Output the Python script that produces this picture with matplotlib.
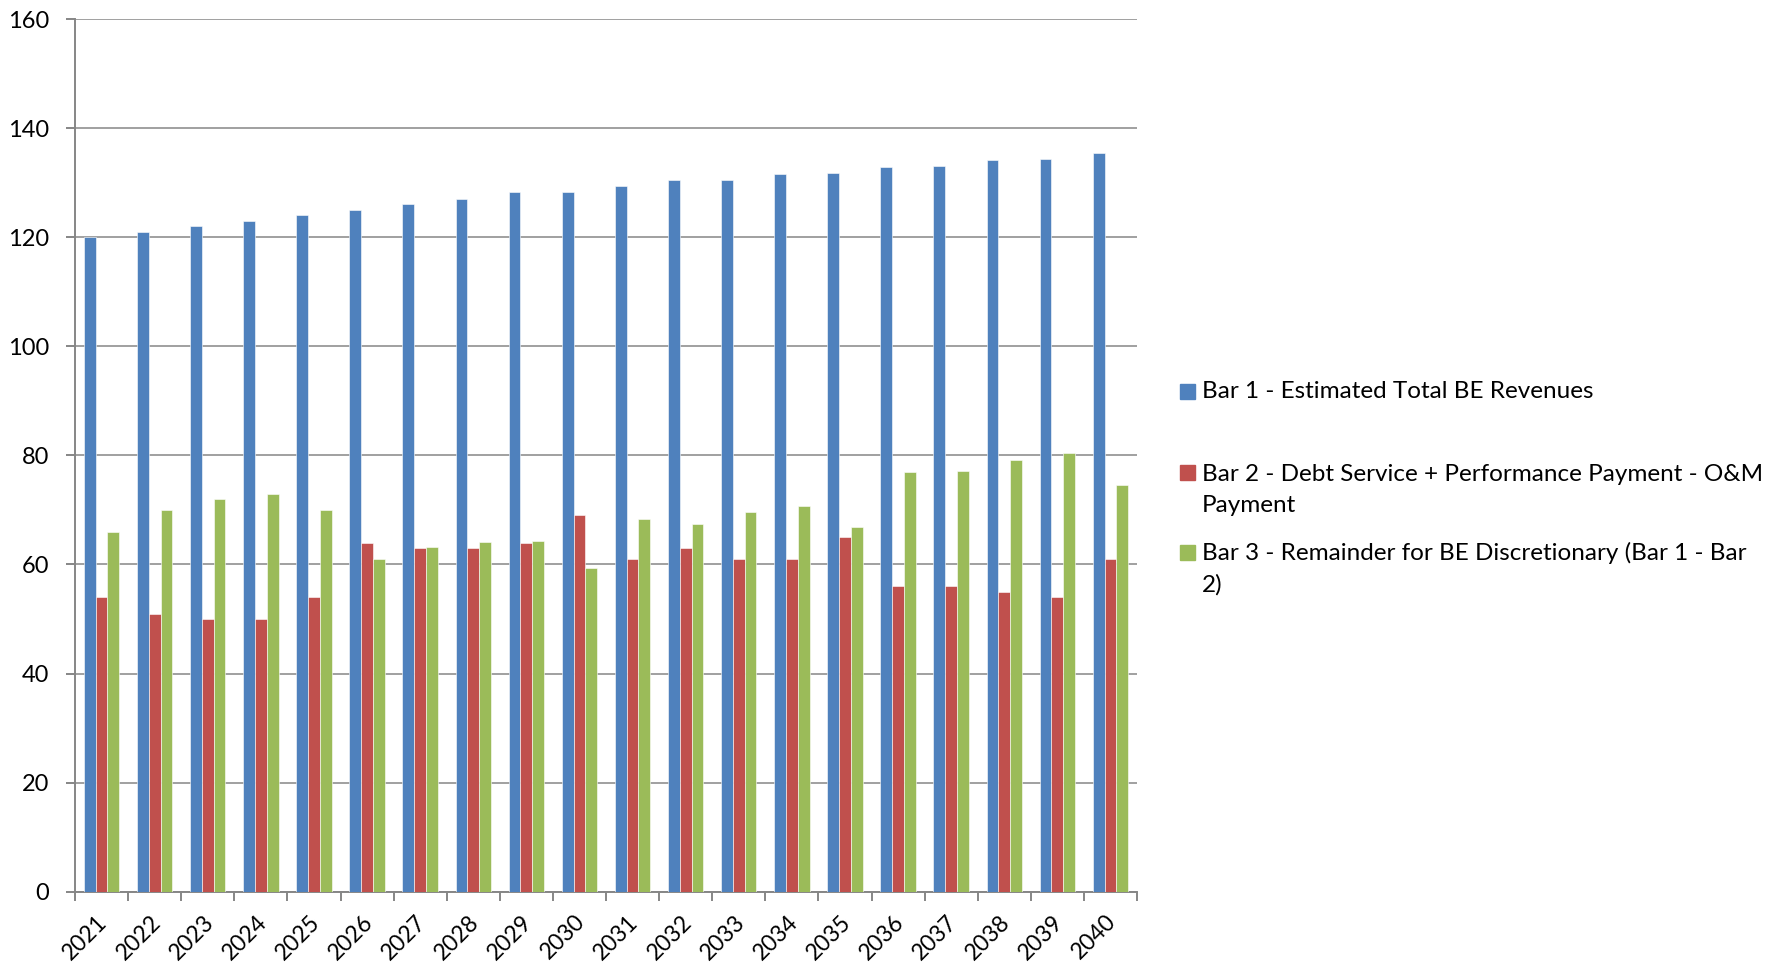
import matplotlib
matplotlib.use("Agg")
import matplotlib.pyplot as plt
import matplotlib.transforms as mtransforms
from matplotlib.patches import Rectangle
import numpy as np

plt.rcParams['font.family'] = ['Lato', 'DejaVu Sans']

years = [str(y) for y in range(2021, 2041)]
bar1_revenues = [120, 121, 122, 123, 124, 125, 126.1, 127, 128.2, 128.2,
                 129.3, 130.4, 130.5, 131.6, 131.8, 132.8, 133.1, 134.2, 134.4, 135.5]
bar2_debt = [54, 51, 50, 50, 54, 64, 63, 63, 64, 69,
             61, 63, 61, 61, 65, 56, 56, 55, 54, 61]
bar3_remainder = [66, 70, 72, 73, 70, 61, 63.2, 64.2, 64.3, 59.3,
                  68.4, 67.4, 69.6, 70.7, 66.8, 77, 77.1, 79.2, 80.4, 74.6]
series_labels = [
    "Bar 1 - Estimated Total BE Revenues",
    "Bar 2 - Debt Service + Performance Payment - O&M\nPayment",
    "Bar 3 - Remainder for BE Discretionary (Bar 1 - Bar\n2)",
]
colors = ['#4F81BD', '#C0504D', '#9BBB59']
yticks = [0, 20, 40, 60, 80, 100, 120, 140, 160]

W, H = 1781, 967
fig = plt.figure(figsize=(W / 100, H / 100), dpi=100)
ax = fig.add_axes([75 / W, 1 - 891.7 / H, 1062 / W, (891.7 - 19) / H])

x = np.arange(len(years))
bw = 1 / 4.5
for i, (vals, c) in enumerate(zip([bar1_revenues, bar2_debt, bar3_remainder], colors)):
    ax.bar(x + (i - 1) * bw, vals, width=bw, color=c, edgecolor='white',
           linewidth=0.4, zorder=3)

ax.set_xlim(-0.5, len(years) - 0.5)
ax.set_ylim(0, 160)
ax.set_yticks(yticks)
ax.set_yticklabels([str(v) for v in yticks])
ax.yaxis.grid(True, color='#868686', linewidth=1.1, zorder=0)
ax.set_axisbelow(True)

gray = '#868686'
for s in ['top', 'right']:
    ax.spines[s].set_visible(False)
for s in ['left', 'bottom']:
    ax.spines[s].set_color(gray)
    ax.spines[s].set_linewidth(1.4)

ax.tick_params(axis='y', length=6.5, width=1.4, color=gray, pad=12, labelsize=17)
ax.set_xticks(np.arange(-0.5, len(years), 1.0))
ax.set_xticklabels([])
ax.tick_params(axis='x', which='major', length=6.5, width=1.4, color=gray)
ax.set_xticks(x, minor=True)
ax.set_xticklabels(years, minor=True, rotation=45, ha='right', va='top', fontsize=16.5)
ax.tick_params(axis='x', which='minor', length=0, pad=14)
offset = mtransforms.ScaledTranslation(10 / 100, 0, fig.dpi_scale_trans)
for lab in ax.xaxis.get_minorticklabels():
    lab.set_transform(lab.get_transform() + offset)

# legend (manual, swatch aligned with first line as in the source)
first_baselines = [398.5, 480, 560]
line_gap = 32
for lbl, c, b in zip(series_labels, colors, first_baselines):
    fig.add_artist(Rectangle((1180 / W, 1 - b / H), 15 / W, 15 / H,
                             transform=fig.transFigure, color=c))
    nlines = lbl.count("\n")
    last_b = b + nlines * line_gap
    fig.text(1202 / W, 1 - last_b / H, lbl, fontsize=17.5, va='baseline', ha='left',
             linespacing=1.6)

fig.savefig('out.png', dpi=100)
